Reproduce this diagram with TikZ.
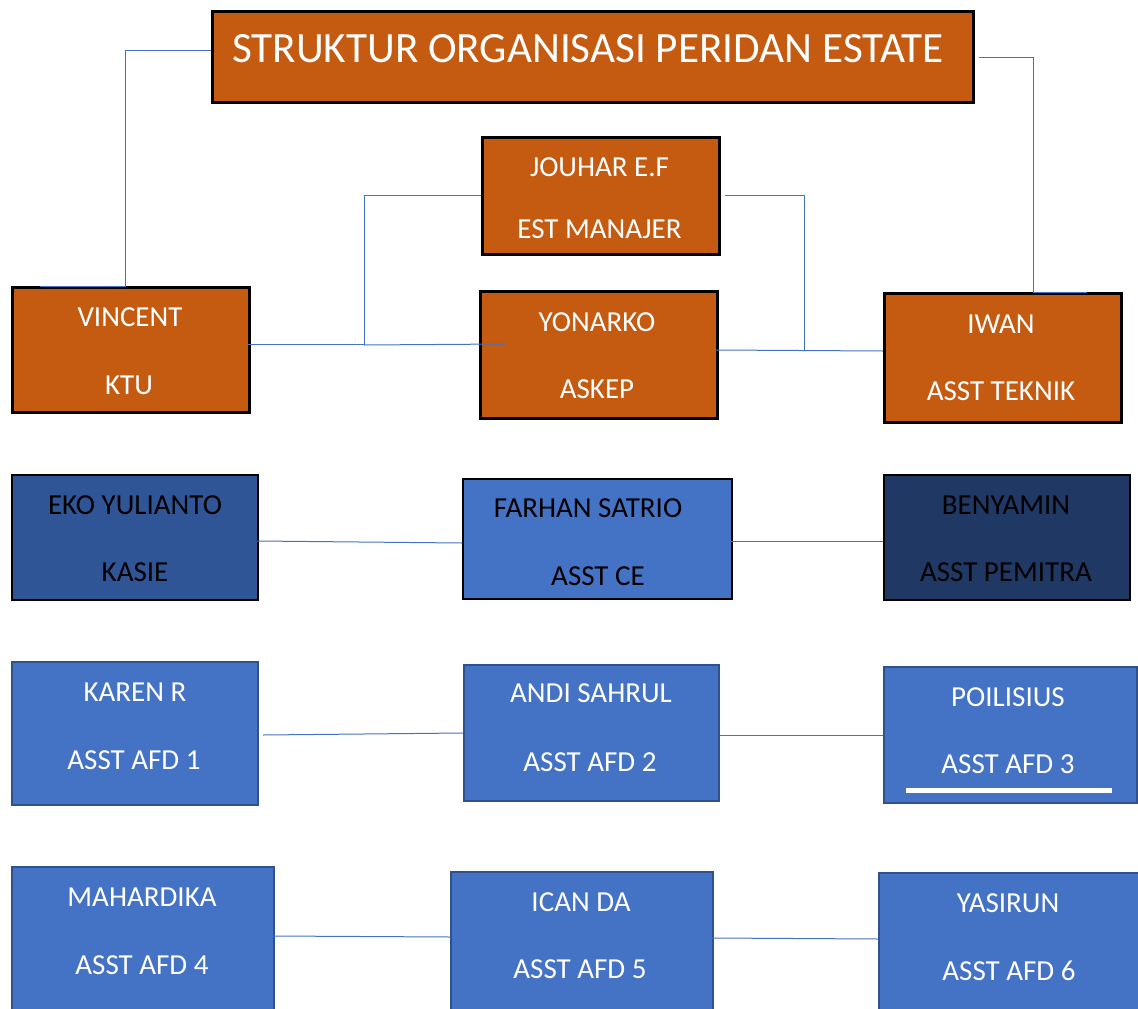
\documentclass[tikz,border=0pt]{standalone}
\usepackage{fontspec}
\setmainfont{Carlito}
\definecolor{orng}{HTML}{C55A11}
\definecolor{midblue}{HTML}{4472C4}
\definecolor{ekoblue}{HTML}{2F5597}
\definecolor{darkblue}{HTML}{203864}
\definecolor{edgeblue}{HTML}{2F528F}
\begin{document}
\begin{tikzpicture}[x=1pt,y=-1pt,
  boxbase/.style={rectangle, inner sep=0pt, anchor=north west},
  obox/.style={boxbase, fill=orng, draw=black, line width=2.6pt},
  ekobox/.style={boxbase, fill=ekoblue, draw=black, line width=2.4pt},
  dbbox/.style={boxbase, fill=darkblue, draw=black, line width=2.4pt},
  ceb/.style={boxbase, fill=midblue, draw=black, line width=2.4pt},
  afdbox/.style={boxbase, fill=midblue, draw=edgeblue, line width=2pt},
  wtxt/.style={anchor=base, inner sep=0pt, text=white, font=\fontsize{29}{34}\selectfont},
  btxt/.style={anchor=base, inner sep=0pt, text=black, font=\fontsize{29}{34}\selectfont},
  conn/.style={draw=midblue, line width=1pt}]
\useasboundingbox (0,0) rectangle (1138,1009);
\fill[white] (0,0) rectangle (1138,1009);

% boxes
\node[obox, minimum width=761pt, minimum height=91pt] (title) at (211,10) {};
\node[obox, minimum width=237pt, minimum height=117pt] (jouhar) at (481,136) {};
\node[obox, minimum width=237pt, minimum height=125pt] (vincent) at (11,286) {};
\node[obox, minimum width=237pt, minimum height=127pt] (yonarko) at (479,290) {};
\node[obox, minimum width=237pt, minimum height=129pt] (iwan) at (883,292) {};
\node[ekobox, minimum width=246pt, minimum height=125pt] (eko) at (11,474) {};
\node[ceb, minimum width=269pt, minimum height=120pt] (farhan) at (462,478) {};
\node[dbbox, minimum width=246pt, minimum height=125pt] (benyamin) at (883,474) {};
\node[afdbox, minimum width=246pt, minimum height=143pt] (karen) at (11,661) {};
\node[afdbox, minimum width=255pt, minimum height=136pt] (andi) at (463,664) {};
\node[afdbox, minimum width=253pt, minimum height=136pt] (poil) at (883,666) {};
\node[afdbox, minimum width=262pt, minimum height=150pt] (maha) at (11,866) {};
\node[afdbox, minimum width=262pt, minimum height=150pt] (ican) at (450,871) {};
\node[afdbox, minimum width=270pt, minimum height=150pt] (yasi) at (878,872) {};

% white bar in POILISIUS box
\fill[white] (906,788) rectangle (1112,793);

% texts
\node[wtxt, font=\fontsize{43.2}{48}\selectfont] (titletxt) at (588,62) {STRUKTUR ORGANISASI PERIDAN ESTATE};
\node[wtxt] (jouhar1) at (599.5,176) {JOUHAR E.F};
\node[wtxt] (jouhar2) at (599.5,238) {EST MANAJER};
\node[wtxt] (vincent1) at (130,326) {VINCENT};
\node[wtxt] (vincent2) at (129,394) {KTU};
\node[wtxt] (yonarko1) at (597,331) {YONARKO};
\node[wtxt] (yonarko2) at (597,398) {ASKEP};
\node[wtxt] (iwan1) at (1001,333) {IWAN};
\node[wtxt] (iwan2) at (1001,400) {ASST TEKNIK};
\node[btxt] (eko1) at (135,514) {EKO YULIANTO};
\node[btxt] (eko2) at (135,581) {KASIE};
\node[btxt] (farhan1) at (588,517) {FARHAN SATRIO};
\node[btxt] (farhan2) at (598,585) {ASST CE};
\node[btxt] (benyamin1) at (1006,514) {BENYAMIN};
\node[btxt] (benyamin2) at (1006,581) {ASST PEMITRA};
\node[wtxt] (karen1) at (135,701) {KAREN R};
\node[wtxt] (karen2) at (134,769) {ASST AFD 1};
\node[wtxt] (andi1) at (591,702) {ANDI SAHRUL};
\node[wtxt] (andi2) at (590,771) {ASST AFD 2};
\node[wtxt] (poil1) at (1008,706) {POILISIUS};
\node[wtxt] (poil2) at (1008,773) {ASST AFD 3};
\node[wtxt] (maha1) at (142,906) {MAHARDIKA};
\node[wtxt] (maha2) at (142,974) {ASST AFD 4};
\node[wtxt] (ican1) at (581,911) {ICAN DA};
\node[wtxt] (ican2) at (580,978) {ASST AFD 5};
\node[wtxt] (yasi1) at (1008,912) {YASIRUN};
\node[wtxt] (yasi2) at (1009,980) {ASST AFD 6};

% connector points
\coordinate (tl) at (211,50);
\coordinate (tlc) at (125,286);
\coordinate (tle) at (40,286);
\coordinate (tr) at (979,57);
\coordinate (trc) at (1033,292);
\coordinate (tre) at (1087,292);
\coordinate (jl) at (481,195);
\coordinate (jlc) at (364,345);
\coordinate (jr) at (725,195);
\coordinate (jrc) at (804,350);
\coordinate (vr) at (248,344);
\coordinate (yin) at (505,344);
\coordinate (yr) at (716,350);
\coordinate (il) at (883,351);
\coordinate (ekor) at (257,541);
\coordinate (farl) at (462,543);
\coordinate (farr) at (731,541);
\coordinate (benl) at (883,541);
\coordinate (karr) at (263,735);
\coordinate (andl) at (463,733);
\coordinate (andr) at (720,735);
\coordinate (poll) at (883,735);
\coordinate (mahr) at (273,936);
\coordinate (icanl) at (450,937);
\coordinate (icanr) at (712,938);
\coordinate (yasl) at (878,939);

% connectors
\draw[conn] (tl) -| (tlc) -- (tle);
\draw[conn] (tr) -| (trc) -- (tre);
\draw[conn] (jl) -| (jlc);
\draw[conn] (vr) -- (jlc |- vr);
\draw[conn] (jlc) -- (yin);
\draw[conn] (jr) -| (jrc);
\draw[conn] (yr) -- (il);
\draw[conn] (ekor) -- (farl);
\draw[conn] (farr) -- (benl);
\draw[conn] (karr) -- (andl);
\draw[conn] (andr) -- (poll);
\draw[conn] (mahr) -- (icanl);
\draw[conn] (icanr) -- (yasl);
\end{tikzpicture}
\end{document}
